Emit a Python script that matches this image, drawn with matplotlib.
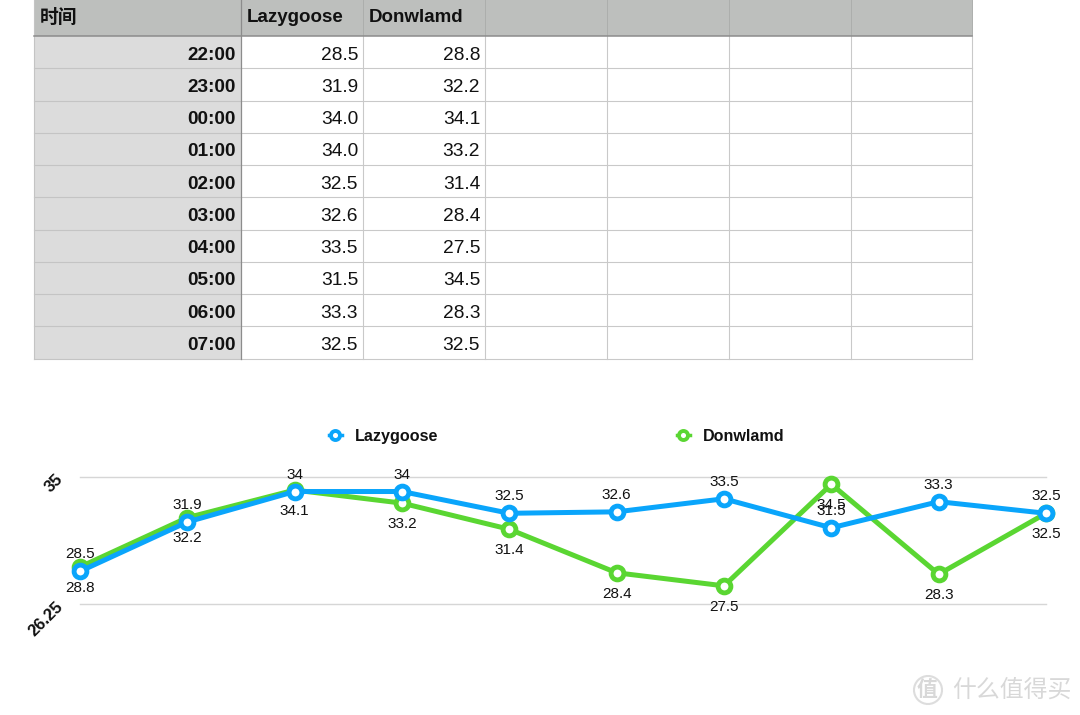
import matplotlib
matplotlib.use('Agg')
from matplotlib import pyplot as plt
from matplotlib.lines import Line2D
from matplotlib.patches import Rectangle, Circle

plt.rcParams['font.family'] = ['Liberation Sans', 'Noto Sans CJK SC', 'DejaVu Sans']

# Data
times = ['22:00', '23:00', '00:00', '01:00', '02:00', '03:00', '04:00', '05:00', '06:00', '07:00']
lazygoose = [28.5, 31.9, 34.0, 34.0, 32.5, 32.6, 33.5, 31.5, 33.3, 32.5]
donwlamd = [28.8, 32.2, 34.1, 33.2, 31.4, 28.4, 27.5, 34.5, 28.3, 32.5]
y_ticks = [26.25, 35]
y_tick_labels = ['26.25', '35']
header = ['时间', 'Lazygoose', 'Donwlamd']

BLUE = '#0aa5fb'
GREEN = '#5ad632'

W, H = 1080, 715
fig = plt.figure(figsize=(W / 100, H / 100), dpi=100)

# Background axes in pixel coordinates, holds the table and watermark
bg = fig.add_axes([0, 0, 1, 1])
bg.set_xlim(0, W)
bg.set_ylim(H, 0)
bg.axis('off')

col_x = [34, 241, 362.7, 484.7, 606.7, 728.7, 850.7, 972]
head_h = 36
row_h = 32.25
table_bottom = head_h + row_h * len(times)

# Table fills
bg.add_patch(Rectangle((col_x[0], 0), col_x[-1] - col_x[0], head_h, fc='#bdbfbd', ec='none'))
bg.add_patch(Rectangle((col_x[0], head_h), col_x[1] - col_x[0], table_bottom - head_h, fc='#dcdcdc', ec='none'))

# Table lines
for i in range(1, len(times) + 1):
    y = head_h + row_h * i
    bg.plot([col_x[0], col_x[1]], [y, y], color='#c4c4c4', lw=0.8)
    bg.plot([col_x[1], col_x[-1]], [y, y], color='#c9c9c9', lw=0.8)
for x in col_x[2:]:
    bg.plot([x, x], [0, head_h], color='#acaeac', lw=0.7)
    bg.plot([x, x], [head_h, table_bottom], color='#c9c9c9', lw=0.8)
bg.plot([col_x[0], col_x[0]], [0, table_bottom], color='#c4c4c4', lw=0.8)
bg.plot([col_x[1], col_x[1]], [0, table_bottom], color='#8c8c8c', lw=0.9)
bg.plot([col_x[0], col_x[-1]], [head_h, head_h], color='#8c8c8c', lw=1.1)

# Table text
for i, name in enumerate(header):
    bg.text(col_x[i] + 6, 18, name, fontsize=13.5, fontweight='bold', va='center', ha='left', color='#111111')
for i, t in enumerate(times):
    yc = head_h + row_h * (i + 0.5) + 3
    bg.text(col_x[1] - 5, yc, t, fontsize=13.7, fontweight='bold', ha='right', va='center', color='#111111')
    bg.text(col_x[2] - 4.7, yc, '%.1f' % lazygoose[i], fontsize=13.8, ha='right', va='center', color='#111111')
    bg.text(col_x[3] - 4.7, yc, '%.1f' % donwlamd[i], fontsize=13.8, ha='right', va='center', color='#111111')

# Watermark
bg.add_patch(Circle((928, 690), 14, fc='none', ec='#dddddd', lw=1.5))
bg.text(927, 690, '值', fontsize=15, color='#d8d8d8', ha='center', va='center', fontweight='bold')
bg.text(1012, 691, '什么值得买', fontsize=17.2, color='#d8d8d8', ha='center', va='center')

# Line chart
ax = fig.add_axes([80 / W, 1 - 604 / H, 966 / W, 127 / H])
ax.patch.set_alpha(0)
x = list(range(len(times)))
ax.plot(x, donwlamd, color=GREEN, lw=3.6, marker='o', ms=9.2, mew=3.5, mfc='white', clip_on=False, zorder=3)
ax.plot(x, lazygoose, color=BLUE, lw=3.6, marker='o', ms=9.2, mew=3.5, mfc='white', clip_on=False, zorder=4)

for xi, v in zip(x, lazygoose):
    ax.annotate('%g' % v, (xi, v), xytext=(0, 12.2), textcoords='offset points', ha='center', va='center',
                fontsize=11, color='#111111', zorder=5)
for xi, v in zip(x, donwlamd):
    ax.annotate('%g' % v, (xi, v), xytext=(0, -15), textcoords='offset points', ha='center', va='center',
                fontsize=11, color='#111111', zorder=5)

ax.set_xlim(0, len(times) - 1)
ax.set_ylim(y_ticks[0], y_ticks[1])
ax.set_xticks([])
ax.set_yticks(y_ticks)
ax.set_yticklabels(y_tick_labels, rotation=45, rotation_mode='anchor', ha='right', va='center',
                   fontsize=12, fontweight='bold', color='#111111')
ax.tick_params(axis='y', length=0, pad=14)
ax.grid(axis='y', color='#d6d6d6', lw=1, clip_on=False)
ax.set_axisbelow(True)
for s in ax.spines.values():
    s.set_visible(False)

# Legend
handles = [
    Line2D([], [], color=BLUE, lw=2.5, marker='o', ms=6.5, mew=2.8, mfc='white'),
    Line2D([], [], color=GREEN, lw=2.5, marker='o', ms=6.5, mew=2.8, mfc='white'),
]
fig.legend(handles, ['Lazygoose', 'Donwlamd'], loc='center', bbox_to_anchor=(556.6 / W, 1 - 436.6 / H), ncol=2,
           frameon=False, prop={'size': 11.6, 'weight': 'bold'}, handlelength=0.8, handletextpad=0.8,
           columnspacing=14.82, borderpad=0, labelcolor='#111111')

fig.savefig('out.png', dpi=100)
